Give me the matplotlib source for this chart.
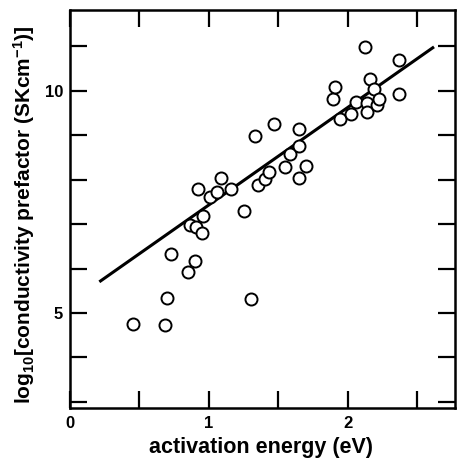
import numpy as np
import matplotlib
matplotlib.use('Agg')
from matplotlib import pyplot as plt

plt.rcParams['font.family'] = ['Liberation Sans', 'DejaVu Sans']
plt.rcParams['mathtext.fontset'] = 'custom'
plt.rcParams['mathtext.rm'] = 'Liberation Sans:bold'
plt.rcParams['mathtext.default'] = 'rm'

# activation energy (eV) and log10 prefactor
energy = [0.45, 0.68, 0.70, 0.73, 0.85, 0.90, 0.86, 0.91, 0.95, 0.96,
          0.92, 1.01, 1.06, 1.09, 1.16, 1.25, 1.30, 1.33, 1.35, 1.40,
          1.43, 1.47, 1.55, 1.58, 1.65, 1.65, 1.65, 1.70, 1.89, 1.91,
          1.94, 2.02, 2.06, 2.12, 2.14, 2.14, 2.16, 2.19, 2.21, 2.22,
          2.37, 2.37]
prefactor = [4.75, 4.73, 5.34, 6.33, 5.92, 6.17, 6.98, 6.94, 6.80, 7.18,
             7.79, 7.61, 7.73, 8.04, 7.79, 7.30, 5.32, 8.99, 7.88, 8.02,
             8.18, 9.26, 8.29, 8.58, 9.14, 8.76, 8.04, 8.31, 9.82, 10.09,
             9.37, 9.48, 9.75, 10.99, 9.73, 9.53, 10.27, 10.05, 9.68, 9.82,
             9.93, 10.70]

# fitted line end points
fit_x = [0.22, 2.61]
fit_y = [5.72, 10.97]

fig = plt.figure(figsize=(4.57, 4.61), dpi=100)
ax = fig.add_axes([70/457, (461-408)/461, (455-70)/457, (408-10)/461])

ax.plot(fit_x, fit_y, color='black', lw=2.2, zorder=2)
ax.scatter(energy, prefactor, s=75, facecolors='white', edgecolors='black',
           linewidths=1.4, zorder=3)

ax.set_xlim(0, 2.77)
ax.set_ylim(2.86, 11.82)
ax.set_xticks(np.arange(0, 3, 0.5))
ax.set_xticklabels(['0', '', '1', '', '2', ''])
ax.set_yticks(np.arange(3, 12, 1))
ax.set_yticklabels(['', '', '5', '', '', '', '', '10', ''])
ax.tick_params(direction='in', length=12, width=1.6, top=True, right=True,
               labelsize=12)
ax.tick_params(axis='x', pad=6)
ax.tick_params(axis='y', pad=5)
for lab in ax.get_xticklabels() + ax.get_yticklabels():
    lab.set_fontweight('bold')
for sp in ax.spines.values():
    sp.set_linewidth(1.8)

ax.set_xlabel('activation energy (eV)', fontsize=15.5, fontweight='bold')
ax.xaxis.set_label_coords(0.496, -0.074)
ax.set_ylabel(r'log$_{10}$[conductivity prefactor (SKcm$^{-1}$)]', fontsize=15,
              fontweight='bold')
ax.yaxis.set_label_coords(-0.086, 0.486)

fig.savefig('out.png', dpi=100)
